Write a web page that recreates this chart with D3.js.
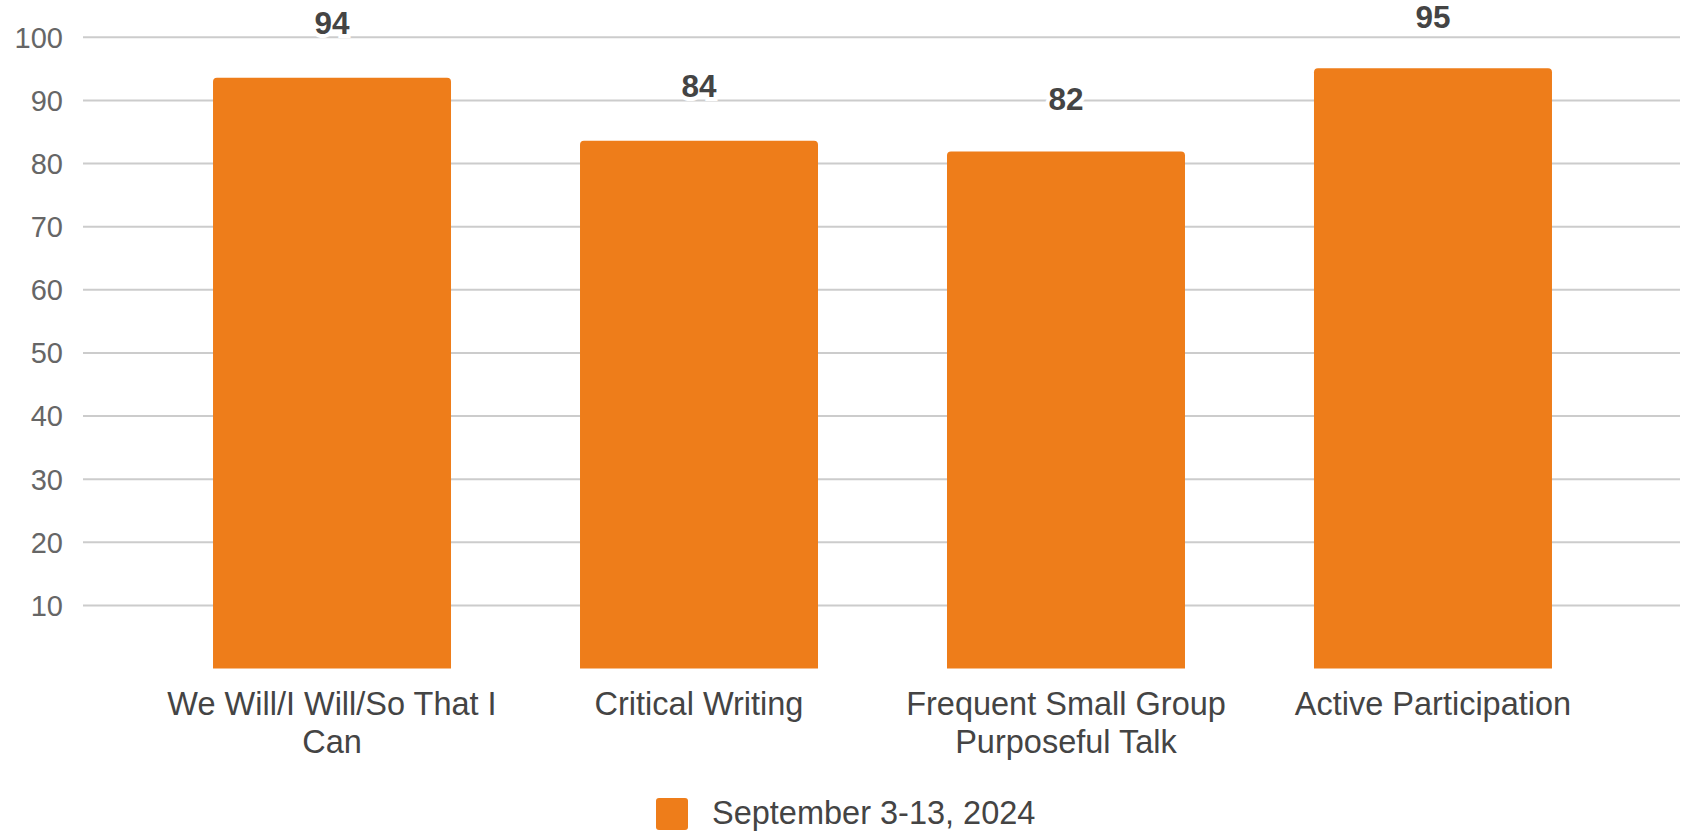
<!DOCTYPE html>
<html>
<head>
<meta charset="utf-8">
<script src="https://cdn.jsdelivr.net/npm/d3@7"></script>
<style>
  html, body { margin: 0; padding: 0; background: #fff; }
  svg { display: block; font-family: "Liberation Sans", Arial, sans-serif; }
</style>
</head>
<body>
<svg id="chart" width="1685" height="832"></svg>
<script>
const categories = [
  ["We Will/I Will/So That I", "Can"],
  ["Critical Writing"],
  ["Frequent Small Group", "Purposeful Talk"],
  ["Active Participation"]
];
const values = [93.6, 83.6, 81.9, 95.1];
const yTicks = [10, 20, 30, 40, 50, 60, 70, 80, 90, 100];
const seriesName = "September 3-13, 2024";

const W = 1685, H = 832;
const svg = d3.select("#chart");
const gridLeft = 83, gridRight = 1680;
const barColor = "#EE7D1A";

const x = d3.scaleBand()
  .domain(d3.range(categories.length))
  .range([148.5, 1616.5])
  .paddingInner(0.3515)
  .paddingOuter(0.1758);

const y = d3.scaleLinear().domain([0, 100]).range([668.5, 37.3]);

// gridlines
svg.append("g").selectAll("line").data(yTicks).join("line")
  .attr("x1", gridLeft).attr("x2", gridRight)
  .attr("y1", d => y(d)).attr("y2", d => y(d))
  .attr("stroke", "#cccccc").attr("stroke-width", 2);

// y axis labels
svg.append("g").selectAll("text").data(yTicks).join("text")
  .attr("x", 63).attr("y", d => y(d))
  .attr("dy", "0.36em")
  .attr("text-anchor", "end")
  .attr("font-size", 29)
  .attr("fill", "#666666")
  .text(d => d);

// bars (rounded top corners)
function barPath(d, i) {
  const x0 = x(i), w = x.bandwidth(), y0 = y(d), yb = y(0), r = 4;
  return `M${x0},${yb}V${y0 + r}Q${x0},${y0} ${x0 + r},${y0}H${x0 + w - r}Q${x0 + w},${y0} ${x0 + w},${y0 + r}V${yb}Z`;
}
svg.append("g").selectAll("path").data(values).join("path")
  .attr("d", (d, i) => barPath(d, i))
  .attr("fill", barColor);

// value labels
svg.append("g").selectAll("text").data(values).join("text")
  .attr("x", (d, i) => x(i) + x.bandwidth() / 2)
  .attr("y", d => y(Math.round(d)) - 41)
  .attr("text-anchor", "middle")
  .attr("font-size", 31.5)
  .attr("font-weight", "bold")
  .attr("fill", "#444444")
  .attr("stroke", "#ffffff")
  .attr("stroke-width", 8)
  .attr("paint-order", "stroke")
  .text(d => d3.format(".0f")(d));

// x labels
const xl = svg.append("g").selectAll("text").data(categories).join("text")
  .attr("x", (d, i) => x(i) + x.bandwidth() / 2)
  .attr("y", 715)
  .attr("text-anchor", "middle")
  .attr("font-size", 32.5)
  .attr("fill", "#444444");
xl.selectAll("tspan").data(d => d).join("tspan")
  .attr("x", function() { return d3.select(this.parentNode).attr("x"); })
  .attr("dy", (d, j) => j === 0 ? 0 : 37.7)
  .text(d => d);

// legend
const lg = svg.append("g");
lg.append("rect")
  .attr("x", 656).attr("y", 798).attr("width", 32).attr("height", 32)
  .attr("rx", 3).attr("fill", barColor);
lg.append("text")
  .attr("x", 712).attr("y", 824)
  .attr("font-size", 32.5)
  .attr("fill", "#444444")
  .text(seriesName);
</script>
</body>
</html>
